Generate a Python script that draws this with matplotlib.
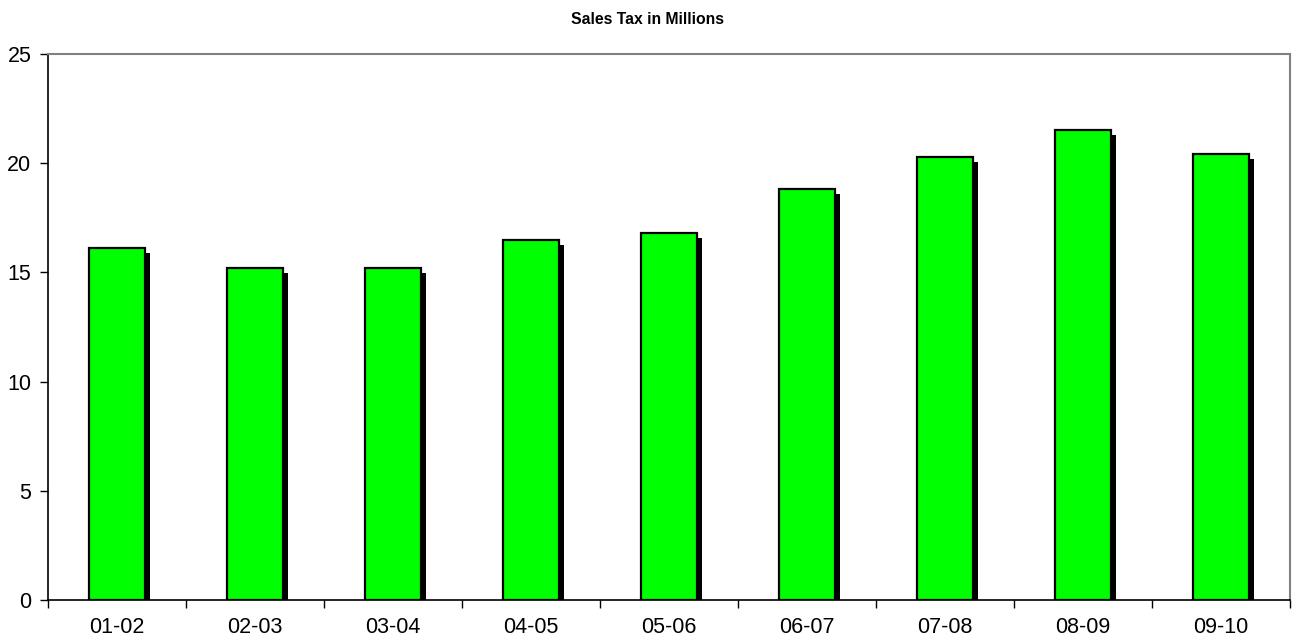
import numpy as np
import matplotlib
matplotlib.use('Agg')
import matplotlib.pyplot as plt
import matplotlib.patheffects as pe

plt.rcParams['font.family'] = ['Liberation Sans', 'DejaVu Sans']

# fiscal years and sales tax (millions)
years = ['01-02', '02-03', '03-04', '04-05', '05-06', '06-07', '07-08', '08-09', '09-10']
sales_tax = [16.1, 15.2, 15.2, 16.5, 16.8, 18.8, 20.3, 21.5, 20.4]

fig = plt.figure(figsize=(12.95, 6.41), dpi=100)
ax = fig.add_axes([48/1295, 41/641, 1242/1295, 546/641])

x = np.arange(len(years))
bars = ax.bar(x, sales_tax, width=0.41, color='#00ff00', edgecolor='black', linewidth=1.6,
              zorder=3)
for b in bars:
    b.set_path_effects([pe.SimplePatchShadow(offset=(3.6, -3.6), shadow_rgbFace='black', alpha=1),
                        pe.Normal()])

ax.set_xlim(-0.5, len(years) - 0.5)
ax.set_ylim(0, 25)
ax.set_yticks(range(0, 26, 5))
ax.set_xticks(x)
ax.set_xticklabels(years)
ax.set_xticks(np.arange(-0.5, len(years), 1), minor=True)
ax.tick_params(axis='x', which='major', length=0, pad=12, labelsize=15.5)
ax.tick_params(axis='x', which='minor', length=6, width=1, direction='out')
ax.tick_params(axis='y', length=6, width=1, direction='out', labelsize=15.5, pad=6)

for side in ['top', 'right']:
    ax.spines[side].set_color('#808080')
    ax.spines[side].set_linewidth(1.5)
for side in ['left', 'bottom']:
    ax.spines[side].set_color('black')
    ax.spines[side].set_linewidth(1.2)

fig.text(0.5, 1 - 19/641, 'Sales Tax in Millions', ha='center', va='center',
         fontsize=11.3, fontweight='bold')

fig.savefig('out.png', dpi=100)
